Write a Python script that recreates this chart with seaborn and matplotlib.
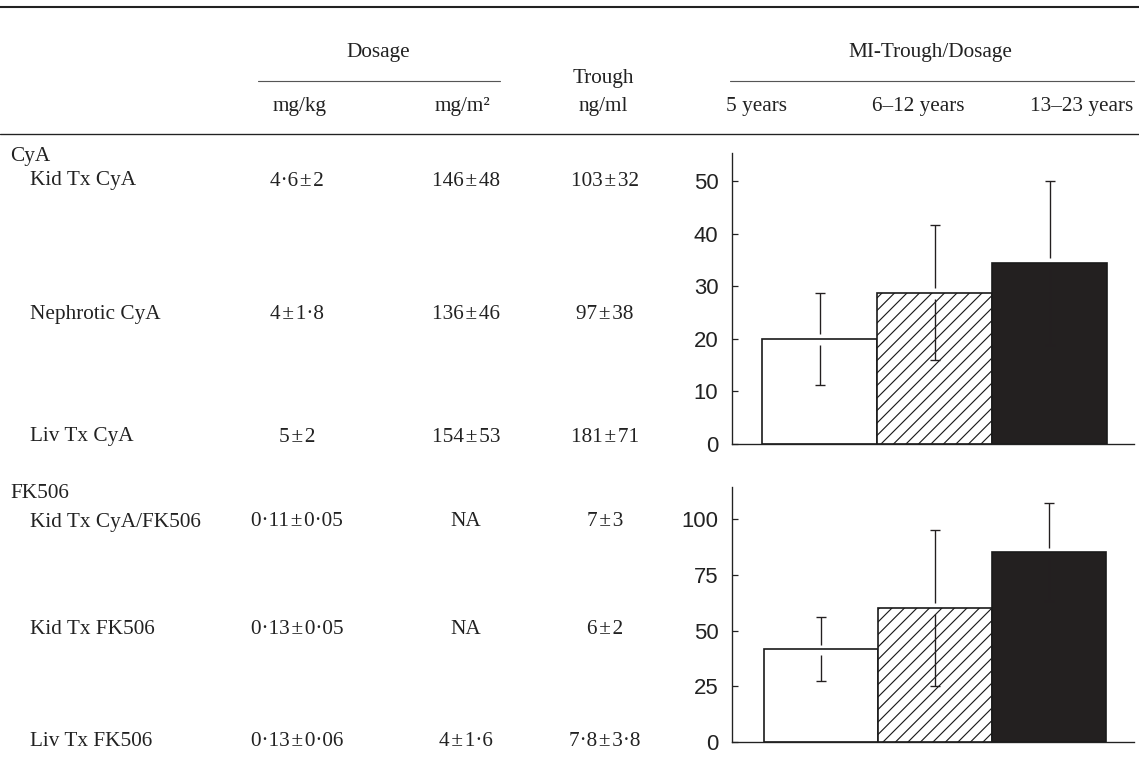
import matplotlib
matplotlib.use("Agg")
import matplotlib.pyplot as plt
import seaborn as sns
import pandas as pd
from matplotlib.lines import Line2D

# ---------------- data ----------------
group_titles = ["CyA", "FK506"]
cya_rows = ["Kid Tx CyA", "Nephrotic CyA", "Liv Tx CyA"]
cya_mgkg = ["4·6±2", "4±1·8", "5±2"]
cya_mgm2 = ["146±48", "136±46", "154±53"]
cya_trough = ["103±32", "97±38", "181±71"]
fk_rows = ["Kid Tx CyA/FK506", "Kid Tx FK506", "Liv Tx FK506"]
fk_mgkg = ["0·11±0·05", "0·13±0·05", "0·13±0·06"]
fk_mgm2 = ["NA", "NA", "4±1·6"]
fk_trough = ["7±3", "6±2", "7·8±3·8"]

age_groups = ["5 years", "6–12 years", "13–23 years"]
cya_mean = [20, 28.8, 34.5]
cya_sd = [8.8, 12.9, 15.6]
fk_mean = [41.7, 60.3, 85.2]
fk_sd = [14.5, 35, 22]
cya_ticks = [0, 10, 20, 30, 40, 50]
fk_ticks = [0, 25, 50, 75, 100]

# ---------------- figure ----------------
sns.set_theme(style="white")
plt.rcParams["font.family"] = ["Liberation Serif", "DejaVu Serif"]
plt.rcParams["hatch.linewidth"] = 0.55
plt.rcParams["hatch.color"] = "#2a2a2a"

W, H, DPI = 1139, 768, 150
fig = plt.figure(figsize=(W / DPI, H / DPI), dpi=DPI)
fig.patch.set_facecolor("white")

def fx(px):
    return px / W

def fy(py):
    return 1 - py / H

SERIF = 10.2
INK = "#222222"

def pm(s):
    return s.replace("±", "\u200a±\u200a")

def txt(px, py, s, ha="center"):
    fig.text(fx(px), fy(py), s, ha=ha, va="center", fontsize=SERIF,
             color=INK, family=["Liberation Serif", "DejaVu Serif"])

def hline(py, x0, x1, lw, color=INK):
    fig.add_artist(Line2D([fx(x0), fx(x1)], [fy(py), fy(py)], lw=lw, color=color,
                          transform=fig.transFigure))

# header rules
hline(7, 0, W, 1.0)
hline(81, 258, 500, 0.55, "#555555")
hline(81, 730, 1134, 0.55, "#555555")
hline(134, 0, W, 0.65)

# header text
txt(378, 53, "Dosage")
txt(930, 53, "MI-Trough/Dosage")
txt(603, 78, "Trough")
txt(603, 106, "ng/ml")
txt(300, 106, "mg/kg")
txt(462, 106, "mg/m²")
txt(756, 106, age_groups[0])
txt(918, 106, age_groups[1])
txt(1133, 106, age_groups[2], ha="right")

# table body
col_x = [297, 466, 605]
txt(10, 157, group_titles[0], ha="left")
for row_y, name, a, b, c in zip([181, 314, 437], cya_rows, cya_mgkg, cya_mgm2, cya_trough):
    txt(30, row_y, name, ha="left")
    for cx, val in zip(col_x, [a, b, c]):
        txt(cx, row_y, pm(val))

txt(10, 494, group_titles[1], ha="left")
for row_y, name, a, b, c in zip([522, 629, 741], fk_rows, fk_mgkg, fk_mgm2, fk_trough):
    txt(30, row_y, name, ha="left")
    for cx, val in zip(col_x, [a, b, c]):
        txt(cx, row_y, pm(val))

# ---------------- bar charts ----------------
def bar_panel(left, right, top, base, ymax, bar_left, unit, means, sds, ticks):
    ax = fig.add_axes([fx(left), fy(base), fx(right) - fx(left), (base - top) / H])
    df = pd.DataFrame({"age": age_groups, "val": means})
    sns.barplot(data=df, x="age", y="val", hue="age",
                palette=["white", "white", "#231f20"], width=1.0,
                edgecolor="#1a1a1a", linewidth=0.8, legend=False, ax=ax, zorder=1)
    ax.patches[1].set_hatch("////")
    x_left = -0.5 - (bar_left - left) / unit
    x_right = x_left + (right - left) / unit
    ax.set_xlim(x_left, x_right)
    ax.set_ylim(0, ymax)
    px_per_unit = (base - top) / ymax
    g_up = 4.5 / px_per_unit
    g_dn = 6.0 / px_per_unit
    xs = list(range(len(means)))
    ecol = "#231f20"
    ax.vlines(xs, [m + g_up for m in means], [m + s for m, s in zip(means, sds)],
              color=ecol, lw=0.65, zorder=3)
    ax.vlines(xs, [m - s for m, s in zip(means, sds)], [m - g_dn for m in means],
              color=ecol, lw=0.65, zorder=3)
    cap = 5.0 / unit
    ax.hlines([m + s for m, s in zip(means, sds)], [x - cap for x in xs], [x + cap for x in xs],
              color=ecol, lw=0.65, zorder=3)
    ax.hlines([m - s for m, s in zip(means, sds)], [x - cap for x in xs], [x + cap for x in xs],
              color=ecol, lw=0.65, zorder=3)
    ax.set_yticks(ticks)
    ax.set_yticklabels([str(t) for t in ticks], family=["Liberation Sans", "DejaVu Sans"],
                       fontsize=10.6, color=INK)
    ax.set_xticks([])
    ax.set_xlabel("")
    ax.set_ylabel("")
    ax.tick_params(axis="y", direction="in", length=3.0, width=0.6, pad=6.5,
                   left=True, colors=INK)
    for s in ["top", "right"]:
        ax.spines[s].set_visible(False)
    for s in ["left", "bottom"]:
        ax.spines[s].set_visible(True)
        ax.spines[s].set_linewidth(0.65)
        ax.spines[s].set_color(INK)
    ax.set_facecolor("none")
    ax.grid(False)
    return ax

bar_panel(732, 1134, 153, 444, 55.4, 762, 115, cya_mean, cya_sd, cya_ticks)
bar_panel(732, 1134, 487, 742, 114.5, 764, 114, fk_mean, fk_sd, fk_ticks)

fig.savefig("out.png", dpi=DPI, facecolor="white")
